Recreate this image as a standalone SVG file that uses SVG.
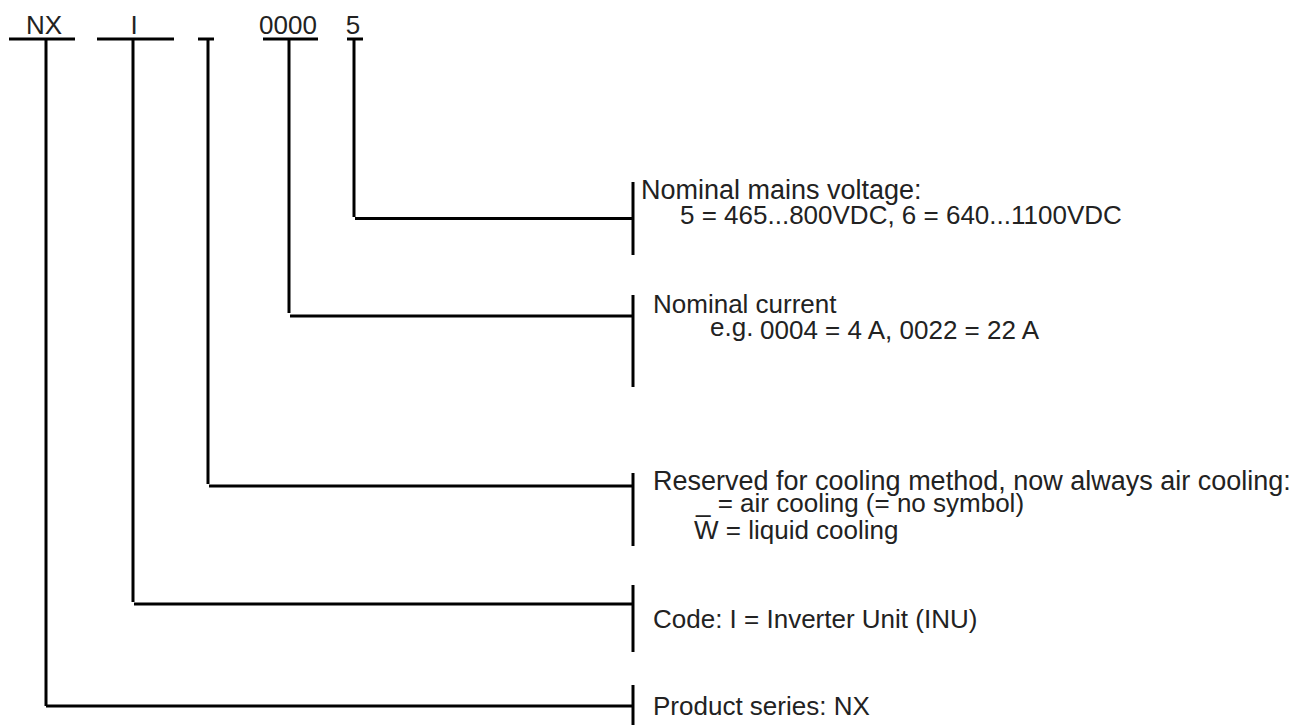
<svg xmlns="http://www.w3.org/2000/svg" width="1316" height="725" viewBox="0 0 1316 725">
<style>
.ln{stroke:#000;stroke-width:3;fill:none;stroke-linecap:butt}
.t{font-family:"Liberation Sans",Arial,sans-serif;font-size:26px;fill:#222}
.h{font-family:"Liberation Sans",Arial,sans-serif;font-size:26px;fill:#222}
</style>
<rect width="1316" height="725" fill="#fff"/>
<g id="code-fields">
<g id="field-nx"><text class="h" x="44" y="34" text-anchor="middle">NX</text><line class="ln" x1="9" y1="39" x2="75" y2="39"/></g>
<g id="field-i"><text class="h" x="134" y="34" text-anchor="middle">I</text><line class="ln" x1="97" y1="39" x2="174" y2="39"/></g>
<g id="field-cool"><line class="ln" x1="198" y1="39" x2="214" y2="39"/></g>
<g id="field-current"><text class="h" x="288" y="34" text-anchor="middle">0000</text><line class="ln" x1="263" y1="39" x2="318" y2="39"/></g>
<g id="field-voltage"><text class="h" x="353" y="34" text-anchor="middle">5</text><line class="ln" x1="347" y1="39" x2="363" y2="39"/></g>
</g>
<g id="connectors">
<line class="ln" x1="354" y1="39" x2="354" y2="217"/>
<line class="ln" x1="355" y1="218.5" x2="633" y2="218.5"/>
<line class="ln" x1="289" y1="39" x2="289" y2="313"/>
<line class="ln" x1="290" y1="316" x2="633" y2="316"/>
<line class="ln" x1="208" y1="39" x2="208" y2="484"/>
<line class="ln" x1="209" y1="486" x2="633" y2="486"/>
<line class="ln" x1="133" y1="39" x2="133" y2="602"/>
<line class="ln" x1="134" y1="604" x2="633" y2="604"/>
<line class="ln" x1="46" y1="39" x2="46" y2="706"/>
<line class="ln" x1="46" y1="706" x2="633" y2="706"/>
</g>
<g id="desc-voltage">
<line class="ln" x1="633" y1="182" x2="633" y2="255"/>
<text class="t" x="641" y="199" style="font-size:27px">Nominal mains voltage:</text>
<text class="t" x="680" y="224">5 = 465...800VDC, 6 = 640...1100VDC</text>
</g>
<g id="desc-current">
<line class="ln" x1="633" y1="295" x2="633" y2="387"/>
<text class="t" x="653" y="313">Nominal current</text>
<text class="t" x="710" y="336">e.g.<tspan x="760" y="339">0004 = 4 A, 0022 = 22 A</tspan></text>
</g>
<g id="desc-cooling">
<line class="ln" x1="633" y1="473" x2="633" y2="546"/>
<text class="t" x="653" y="490" style="font-size:27px">Reserved for cooling method, now always air cooling:</text>
<text class="t" x="696" y="512">_ = air cooling (= no symbol)</text>
<text class="t" x="694" y="539">W = liquid cooling</text>
</g>
<g id="desc-code">
<line class="ln" x1="633" y1="585" x2="633" y2="652"/>
<text class="t" x="653" y="628">Code: I = Inverter Unit (INU)</text>
</g>
<g id="desc-series">
<line class="ln" x1="633" y1="685" x2="633" y2="725"/>
<text class="t" x="653" y="715">Product series: NX</text>
</g>
</svg>
